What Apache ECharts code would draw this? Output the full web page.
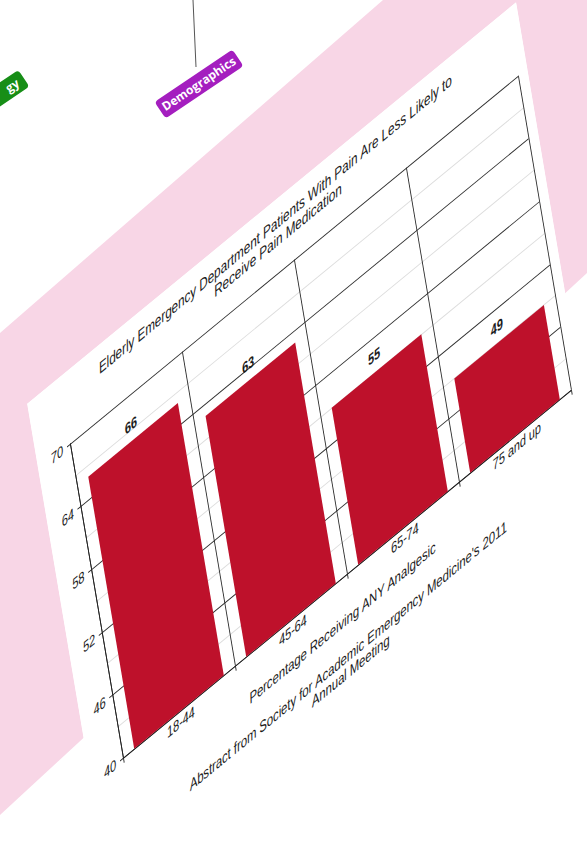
<!DOCTYPE html>
<html>
<head>
<meta charset="utf-8">
<script src="https://cdn.jsdelivr.net/npm/echarts/dist/echarts.min.js"></script>
<style>
  html, body { margin: 0; padding: 0; }
  body { width: 587px; height: 863px; overflow: hidden; background: #ffffff; position: relative; }
  #bg { position: absolute; left: 0; top: 0; }
  #card {
    position: absolute; left: 0; top: 0; width: 633px; height: 520px; background: #ffffff;
    transform-origin: 0 0;
    transform: matrix(0.7724, -0.6345, 0.1667, 0.9874, 27.16, 403.85);
  }
  #chart { width: 633px; height: 520px; }
  .tag {
    position: absolute; height: 20px; line-height: 20px; border-radius: 4px; color: #fff;
    font-family: 'Open Sans', 'Noto Sans', sans-serif; font-weight: 700; font-size: 12px;
    transform: rotate(-34deg); transform-origin: 50% 50%; white-space: nowrap; box-sizing: border-box;
  }
</style>
</head>
<body>
<svg id="bg" width="587" height="863">
  <polygon points="383,0 587,0 587,273 0,815 0,333" fill="#F8D6E6"/>
  <line x1="193" y1="0" x2="196" y2="67" stroke="#555" stroke-width="1"/>
</svg>
<div class="tag" style="left:-31px; top:85px; width:60px; background:#178E17; text-align:right; padding-right:7px;">gy</div>
<div class="tag" style="left:152px; top:74px; width:94px; background:#A41EBF; text-align:center;">Demographics</div>
<div id="card"><div id="chart"></div></div>
<script>
  // ---- data ----
  const categories = ['18-44', '45-64', '65-74', '75 and up'];
  const values = [66, 63, 55, 49];
  const yMin = 40, yMax = 70, yInterval = 6;
  const titleText = 'Elderly Emergency Department Patients With Pain Are Less Likely to\nReceive Pain Medication';
  const axisNameText = 'Percentage Receiving ANY Analgesic';
  const sourceText = "Abstract from Society for Academic Emergency Medicine's 2011\nAnnual Meeting";

  const FONT = "'Liberation Sans', Arial, sans-serif";
  const TXT = '#1c1c1c';
  const chart = echarts.init(document.getElementById('chart'), null, { renderer: 'svg' });
  chart.setOption({
    animation: false,
    backgroundColor: '#ffffff',
    title: [
      { text: titleText, left: 'center', top: 8,
        textStyle: { fontFamily: FONT, fontSize: 15, fontStyle: 'italic', fontWeight: 'normal', color: TXT, lineHeight: 16 } },
      { text: axisNameText, left: 'center', top: 412,
        textStyle: { fontFamily: FONT, fontSize: 14.5, fontStyle: 'italic', fontWeight: 'normal', color: TXT, lineHeight: 16 } },
      { text: sourceText, left: 'center', top: 446,
        textStyle: { fontFamily: FONT, fontSize: 14.5, fontStyle: 'italic', fontWeight: 'normal', color: TXT, lineHeight: 15 } }
    ],
    grid: { left: 41, top: 67, width: 580, height: 318, containLabel: false },
    xAxis: {
      type: 'category', data: categories,
      axisLine: { show: true, lineStyle: { color: '#222', width: 1 } },
      axisTick: { show: true, length: 5, lineStyle: { color: '#222' } },
      splitLine: { show: true, lineStyle: { color: '#2a2a2a', width: 1 } },
      axisLabel: { fontFamily: FONT, fontSize: 14, fontStyle: 'italic', color: TXT, margin: 3 }
    },
    yAxis: {
      type: 'value', min: yMin, max: yMax, interval: yInterval,
      axisLine: { show: true, lineStyle: { color: '#222', width: 1 } },
      axisTick: { show: true, length: 4, lineStyle: { color: '#222' } },
      splitLine: { show: true, lineStyle: { color: '#2a2a2a', width: 1 } },
      minorTick: { show: false, splitNumber: 2 },
      minorSplitLine: { show: true, lineStyle: { color: '#dcdcdc', width: 1 } },
      axisLabel: { fontFamily: FONT, fontSize: 14, fontStyle: 'italic', color: TXT, margin: 9 }
    },
    series: [{
      type: 'bar', data: values, barCategoryGap: '20%',
      itemStyle: { color: '#BE112B' },
      label: { show: true, position: 'top', distance: 8, fontFamily: FONT, fontSize: 14,
               fontStyle: 'italic', fontWeight: 'bold', color: '#1a1a1a' }
    }]
  });
</script>
</body>
</html>
